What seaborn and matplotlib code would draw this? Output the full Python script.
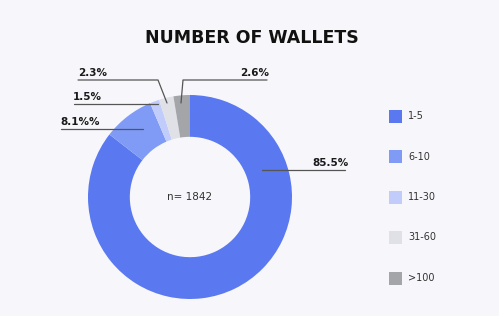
import matplotlib
matplotlib.use("Agg")
import matplotlib.pyplot as plt
import seaborn as sns
from matplotlib.patches import Rectangle

# ---- data ----
categories = ["1-5", "6-10", "11-30", "31-60", ">100"]
shares = [85.5, 8.1, 1.5, 2.3, 2.6]
label_texts = ["85.5%", "8.1%%", "1.5%", "2.3%", "2.6%"]
colors = ["#5a78f0", "#7f9bf6", "#c2ccfa", "#dfe1e7", "#a4a5a9"]
title = "NUMBER OF WALLETS"
center_note = "n= 1842"

sns.set_theme(style="white")
plt.rcParams["font.family"] = ["DejaVu Sans"]

W, H = 499, 316
fig = plt.figure(figsize=(W / 100, H / 100), dpi=100, facecolor="#f7f7fb")
ax = fig.add_axes([0, 0, 1, 1])
ax.set_xlim(0, W)
ax.set_ylim(0, H)
ax.set_aspect("equal")
ax.axis("off")
ax.set_facecolor("#f7f7fb")

def Y(y):
    return H - y

cx, cy, R = 190, Y(197), 102
wedges, _ = ax.pie(shares, colors=sns.color_palette(colors), startangle=90,
                   counterclock=False, center=(cx, cy), radius=R,
                   wedgeprops=dict(width=R * 0.41, linewidth=0),
                   frame=True)
ax.set_xlim(0, W)
ax.set_ylim(0, H)
ax.axis("off")

ax.text(cx, cy, center_note, ha="center", va="center", fontsize=7.5, color="#333333")
ax.text(252, Y(38), title, ha="center", va="center", fontsize=12.5,
        fontweight="bold", color="#111111")

# leader lines (layout)
lc = "#555555"
lines = [
    ([262, 345], [170, 170]),
    ([61, 143], [129, 129]),
    ([74, 158], [104, 104]),
    ([78, 158, 167], [80, 80, 103]),
    ([267, 183, 181], [80, 80, 103]),
]
text_pos = [(312, 168), (60, 127), (73, 102), (78, 78), (240, 78)]
for (xs, ys), (tx, ty), t in zip(lines, text_pos, label_texts):
    ax.plot(xs, [Y(v) for v in ys], color=lc, lw=0.9)
    ax.text(tx, Y(ty), t, ha="left", va="bottom", fontsize=7.5,
            fontweight="bold", color="#1a1a1a")

# legend
for i, (c, lab) in enumerate(zip(colors, categories)):
    y = 116 + i * 40.5
    ax.add_patch(Rectangle((389, Y(y) - 6.5), 13, 13, color=c, lw=0))
    ax.text(408, Y(y), lab, ha="left", va="center", fontsize=7, color="#333333")

fig.savefig("out.png", dpi=100, facecolor=fig.get_facecolor())
